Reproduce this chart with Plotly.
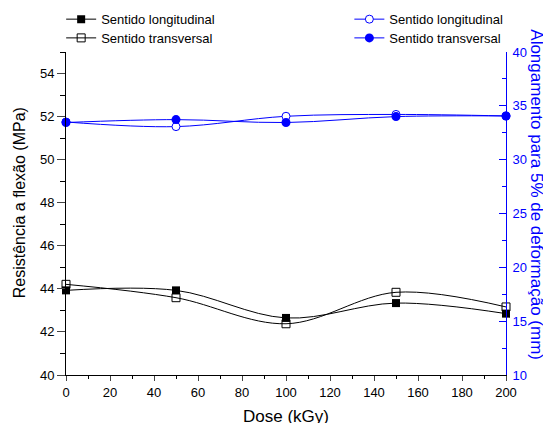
import plotly.graph_objects as go

dose = [0, 50, 100, 150, 200]
res_long = [43.93, 43.93, 42.65, 43.34, 42.85]
res_trans = [44.21, 43.59, 42.38, 43.84, 43.16]
along_long = [33.5, 33.07, 34.03, 34.2, 34.06]
along_trans = [33.45, 33.72, 33.45, 34.0, 34.06]

label_long = "Sentido longitudinal"
label_trans = "Sentido transversal"
x_ticks = list(range(0, 201, 20))
y_ticks = list(range(40, 55, 2))
y2_ticks = list(range(10, 41, 5))

BLUE = "#0000FF"
FONT = "Liberation Sans, Arial, sans-serif"

fig = go.Figure()

# open markers drawn first (underneath)
fig.add_trace(go.Scatter(x=dose, y=res_trans, name=label_trans, mode="lines+markers",
                         line=dict(color="black", width=1, shape="spline"),
                         marker=dict(symbol="square-open", size=8, color="black", line=dict(width=1)),
                         cliponaxis=False, legend="legend2", yaxis="y"))
fig.add_trace(go.Scatter(x=dose, y=along_long, name=label_long, mode="lines+markers",
                         line=dict(color=BLUE, width=1, shape="spline"),
                         marker=dict(symbol="circle", size=8, color="white", line=dict(color=BLUE, width=1)),
                         cliponaxis=False, legend="legend3", yaxis="y2"))
fig.add_trace(go.Scatter(x=dose, y=res_long, name=label_long, mode="lines+markers",
                         line=dict(color="black", width=1, shape="spline"),
                         marker=dict(symbol="square", size=8, color="black"),
                         cliponaxis=False, legend="legend", yaxis="y"))
fig.add_trace(go.Scatter(x=dose, y=along_trans, name=label_trans, mode="lines+markers",
                         line=dict(color=BLUE, width=1, shape="spline"),
                         marker=dict(symbol="circle", size=9, color=BLUE),
                         cliponaxis=False, legend="legend4", yaxis="y2"))

leg_common = dict(xref="paper", yref="paper", xanchor="left", yanchor="top",
                  bgcolor="rgba(0,0,0,0)", font=dict(size=13), itemwidth=30)
row1, row2 = 1.148, 1.090
xl, xr = -0.011, 0.644

fig.update_layout(
    width=543, height=415,
    margin=dict(l=58, r=45, t=44, b=48, autoexpand=False),
    paper_bgcolor="white", plot_bgcolor="white",
    font=dict(family=FONT, size=13, color="black"),
    xaxis=dict(range=[0, 200], tickvals=x_ticks, ticks="outside", ticklen=5, tickwidth=1,
               showline=True, linecolor="black", linewidth=1, showgrid=False, zeroline=False,
               minor=dict(dtick=10, ticks="outside", ticklen=3, tickcolor="black"),
               tickfont=dict(size=13)),
    xaxis2=dict(range=[0, 200], overlaying="x", side="top", anchor="y", matches="x",
                tickvals=x_ticks, ticks="inside", ticklen=5, showticklabels=False,
                showline=True, linecolor="black", linewidth=1, showgrid=False, zeroline=False,
                minor=dict(dtick=10, ticks="inside", ticklen=3, tickcolor="black")),
    yaxis=dict(range=[40, 55], tickvals=y_ticks, ticks="outside", ticklen=8, tickwidth=1,
               showline=True, linecolor="black", linewidth=1, showgrid=False, zeroline=False,
               minor=dict(dtick=1, ticks="outside", ticklen=5, tickcolor="black"),
               tickfont=dict(size=13)),
    yaxis2=dict(range=[10, 40], tickvals=y2_ticks, overlaying="y", side="right", anchor="x",
                ticks="inside", ticklen=7, tickwidth=1, tickcolor=BLUE,
                showline=True, linecolor=BLUE, linewidth=1, showgrid=False, zeroline=False,
                minor=dict(dtick=2.5, ticks="inside", ticklen=4, tickcolor=BLUE),
                ticklabelstandoff=3,
                tickfont=dict(size=13, color=BLUE)),
    legend=dict(x=xl, y=row1, **leg_common),
    legend2=dict(x=xl, y=row2, **leg_common),
    legend3=dict(x=xr, y=row1, **leg_common),
    legend4=dict(x=xr, y=row2, **leg_common),
    annotations=[
        dict(text="Resistência a flexão (MPa)", xref="paper", yref="paper", x=-0.105, y=0.534,
             xanchor="center", yanchor="middle", textangle=-90, showarrow=False,
             font=dict(size=16, color="black")),
        dict(text="Alongamento para 5% de deformação (mm)", xref="paper", yref="paper", x=1.07, y=0.557,
             xanchor="center", yanchor="middle", textangle=90, showarrow=False,
             font=dict(size=17, color=BLUE)),
        dict(text="Dose (kGy)", xref="paper", yref="paper", x=0.5, y=-0.127,
             xanchor="center", yanchor="middle", showarrow=False,
             font=dict(size=17, color="black")),
    ],
    showlegend=True,
)

fig.write_html("out.html")
